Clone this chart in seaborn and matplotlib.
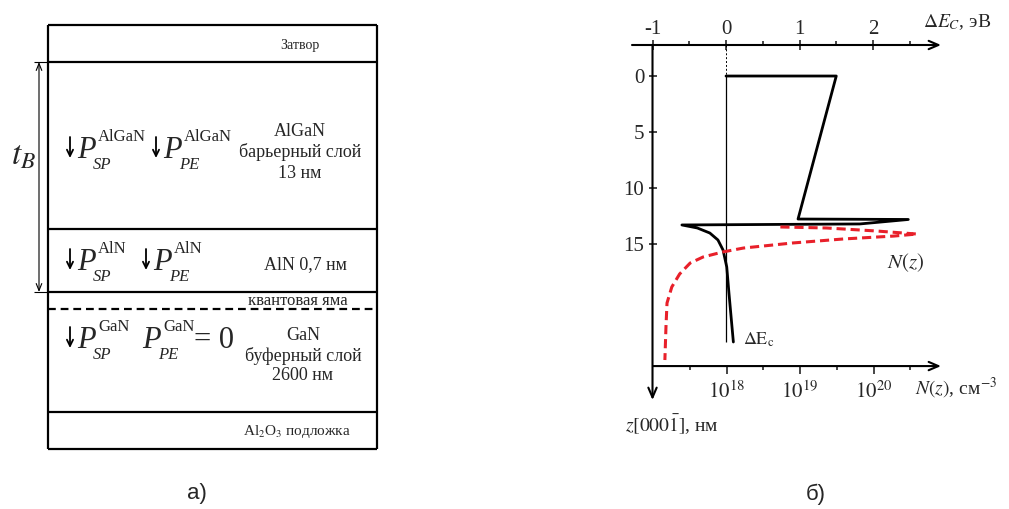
import matplotlib
matplotlib.use("Agg")
import matplotlib.pyplot as plt
from matplotlib.ticker import FixedLocator, NullFormatter
import seaborn as sns

# ---- а) layer stack, in canvas units (px of the 1009x509 picture)
layer_edges = [25, 62, 229, 292, 412, 449]
well_line = 309
stack_left, stack_right = 48, 377

# ---- б) conduction band offset dE_C (eV) vs depth z (nm)
band_de = [0.0, 1.50, 0.98, 2.48, 1.82, -0.60, -0.39, -0.22, -0.11, -0.04, 0.01, 0.04, 0.10]
band_z = [0.0, 0.0, 12.77, 12.81, 13.21, 13.30, 13.57, 14.02, 14.64, 15.54, 17.05, 19.38, 23.75]
zero_line_end = 23.75

# electron concentration N(z), cm^-3
n_conc = [5.4e18, 2.3e19, 1.1e20, 3.9e20, 1.9e20, 3.9e19, 7.9e18, 1.7e18,
          8.9e17, 4.8e17, 3.2e17, 2.3e17, 1.8e17, 1.55e17, 1.5e17, 1.45e17]
n_z = [13.48, 13.57, 13.84, 14.11, 14.29, 14.55, 14.91, 15.36,
       15.71, 16.16, 16.70, 17.68, 18.84, 20.27, 22.41, 25.36]

de_ticks = [-1, 0, 1, 2]
de_tick_labels = ["-1", "0", "1", "2"]
de_minor = [-0.5, 0.5, 1.5, 2.5]
z_ticks = [0, 5, 10, 15]
n_ticks = [1e18, 1e19, 1e20]
n_tick_labels = [r"$10^{18}$", r"$10^{19}$", r"$10^{20}$"]
n_minor = [10**17.5, 10**18.5, 10**19.5, 10**20.5]

de_lim = (-1.279, 2.925)
z_lim = (28.93, -2.77)
n_lim = (10**16.714, 10**20.918)
z_base = 25.9  # where the N(z) axis sits

sns.set_style("white")
plt.rcParams["font.family"] = ["Liberation Serif", "DejaVu Serif"]
plt.rcParams["mathtext.fontset"] = "stix"

W, H = 1009, 509
fig = plt.figure(figsize=(W / 100, H / 100), dpi=100)

canvas = fig.add_axes([0, 0, 1, 1])
canvas.set_xlim(0, W)
canvas.set_ylim(H, 0)
canvas.axis("off")

# layer stack
canvas.hlines(layer_edges, stack_left, stack_right, colors="black", linewidth=1.6)
canvas.vlines([stack_left, stack_right], layer_edges[0], layer_edges[-1], colors="black", linewidth=1.6)
canvas.hlines(well_line, stack_left, stack_right, colors="black", linewidth=1.6,
              linestyles=(0, (3.5, 2.2)))

# t_B dimension arrow
canvas.annotate("", xy=(39, layer_edges[1]), xytext=(39, layer_edges[3]),
                arrowprops=dict(arrowstyle="<->,head_length=0.5,head_width=0.2",
                                lw=0.8, color="black", shrinkA=0, shrinkB=0))
canvas.hlines([layer_edges[1], layer_edges[3]], 34, stack_left, colors="black", linewidth=0.8)
canvas.text(24, 156, r"$t_B$", fontsize=24, ha="center", va="center")


def pol(x, y, sup, sub, arrow=True):
    if arrow:
        canvas.annotate("", xy=(x + 4, y), xytext=(x + 4, y - 21),
                        arrowprops=dict(arrowstyle="->,head_length=0.45,head_width=0.22",
                                        lw=1.3, color="black", shrinkA=0, shrinkB=0))
    px = x + 11
    canvas.text(px, y, "P", fontsize=22, fontstyle="italic", va="baseline")
    canvas.text(px + 21, y - 17, sup, fontsize=12, va="baseline")
    canvas.text(px + 16, y + 11, sub, fontsize=12, fontstyle="italic", va="baseline")


pol(66, 158, "AlGaN", "SP")
pol(152, 158, "AlGaN", "PE")
pol(66, 270, "AlN", "SP")
pol(142, 270, "AlN", "PE")
pol(66, 348, "GaN", "SP")
pol(131, 348, "GaN", "PE", arrow=False)
canvas.text(194, 348, "= 0", fontsize=22, va="baseline")

canvas.text(300, 45, "Затвор", fontsize=10, ha="center", va="center")
for yy, s in zip([132, 152, 174], ["AlGaN", "барьерный слой", "13 нм"]):
    canvas.text(300, yy, s, fontsize=13, ha="center", va="center")
canvas.text(305, 265, "AlN 0,7 нм", fontsize=13, ha="center", va="center")
canvas.text(298, 301, "квантовая яма", fontsize=12, ha="center", va="center")
for yy, s in zip([336, 356, 376], ["GaN", "буферный слой", "2600 нм"]):
    canvas.text(303, yy, s, fontsize=13, ha="center", va="center")
canvas.text(297, 432, r"Al$_2$O$_3$ подложка", fontsize=11, ha="center", va="center")

canvas.text(197, 494, "а)", fontsize=16, ha="center", va="center", family="Liberation Sans")
canvas.text(816, 494, "б)", fontsize=16, ha="center", va="center", family="Liberation Sans")

# ---- б) band diagram
ax = fig.add_axes([632 / W, 1 - 400 / H, (941 - 632) / W, (400 - 45) / H])
ax.patch.set_alpha(0)
sns.lineplot(x=band_de, y=band_z, sort=False, estimator=None, color="black",
             linewidth=2.0, ax=ax)
ax.vlines(0, 0, zero_line_end, colors="black", linewidth=0.9)
ax.vlines(0, z_lim[1], 0, colors="black", linewidth=0.7, linestyles=(0, (2, 2)))

ax_n = ax.twiny()
ax_n.set_xscale("log")
sns.lineplot(x=n_conc, y=n_z, sort=False, estimator=None, color="#e8202a",
             linewidth=2.2, linestyle=(0, (3, 1.6)), ax=ax_n)

ax.set_xlim(de_lim)
ax.set_ylim(z_lim)
ax_n.set_xlim(n_lim)
ax.set_xlabel("")
ax.set_ylabel("")
ax_n.set_xlabel("")
ax_n.set_ylabel("")

for a in (ax, ax_n):
    for s in a.spines.values():
        s.set_visible(False)
ax.spines["left"].set_position(("data", -1))

ax.xaxis.tick_top()
ax.set_xticks(de_ticks)
ax.set_xticklabels(de_tick_labels)
ax.set_xticks(de_minor, minor=True)
ax.set_yticks(z_ticks)
ax.tick_params(axis="x", which="major", direction="inout", length=7, width=1.2,
               labelsize=15, pad=1, top=True, bottom=False, labeltop=True, labelbottom=False)
ax.tick_params(axis="x", which="minor", direction="out", length=3, width=1.2,
               top=True, bottom=False)
ax.tick_params(axis="y", direction="inout", length=6, width=1.2, labelsize=15, pad=3,
               left=True, right=False)

ax_n.spines["bottom"].set_position(("data", z_base))
ax_n.xaxis.set_ticks_position("bottom")
ax_n.set_xticks(n_ticks)
ax_n.set_xticklabels(n_tick_labels)
ax_n.xaxis.set_minor_locator(FixedLocator(n_minor))
ax_n.xaxis.set_minor_formatter(NullFormatter())
ax_n.tick_params(axis="x", which="major", direction="out", length=6, width=1.2,
                 labelsize=15, pad=5, bottom=True, top=False, labelbottom=True, labeltop=False)
ax_n.tick_params(axis="x", which="minor", direction="out", length=3, width=1.2,
                 bottom=True, top=False)

arrow_kw = dict(arrowstyle="->,head_length=0.7,head_width=0.3", lw=1.5, color="black",
                shrinkA=0, shrinkB=0)
ax.annotate("", xy=(1, 1), xytext=(0, 1), xycoords="axes fraction",
            arrowprops=arrow_kw, annotation_clip=False)
ax.annotate("", xy=(-1, 0), xytext=(-1, 1), xycoords=ax.get_xaxis_transform(),
            arrowprops=arrow_kw, annotation_clip=False)
ax_n.annotate("", xy=(1, z_base), xycoords=ax_n.get_yaxis_transform(),
              xytext=(1e17, z_base), textcoords=ax_n.transData,
              arrowprops=arrow_kw, annotation_clip=False)

top = fig.add_axes([0, 0, 1, 1])
top.set_xlim(0, W)
top.set_ylim(H, 0)
top.axis("off")
top.text(923, 22, r"$\Delta E_C$, эВ", fontsize=14, va="center")
top.text(887, 263, r"$N(z)$", fontsize=15, va="center")
top.text(743, 340, r"$\Delta\mathrm{E}_\mathrm{c}$", fontsize=13, va="center")
top.text(915, 388, r"$N(z)$, см$^{-3}$", fontsize=14, va="center")
top.text(625, 425, r"$z[000\bar{1}]$, нм", fontsize=14, va="center")

fig.savefig("out.png", dpi=100)
